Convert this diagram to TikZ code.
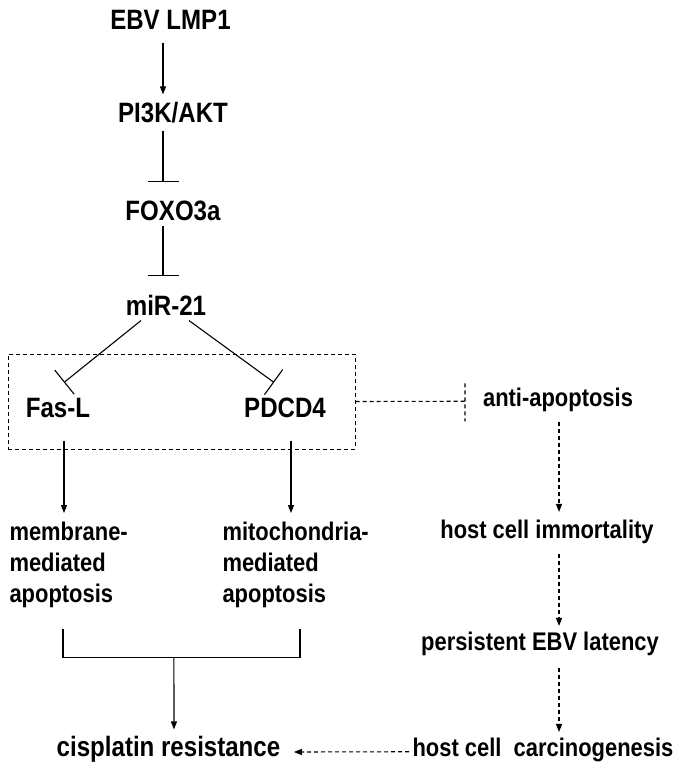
\documentclass[tikz,border=0pt]{standalone}
\usepackage{fontspec}
\setmainfont{Liberation Sans}[FakeStretch=0.86]
\usepackage{tikz}
\usetikzlibrary{arrows.meta}

\begin{document}
\begin{tikzpicture}[x=1pt,y=-1pt,line width=1.1pt,
  big/.style={font=\bfseries\fontsize{28}{33}\selectfont,inner sep=0pt,anchor=base,text height=20pt,text depth=0pt},
  small/.style={font=\bfseries\fontsize{25.5}{31}\selectfont,inner sep=0pt,anchor=base,text height=18.5pt,text depth=0pt},
  blk/.style={font=\bfseries\fontsize{25.5}{31}\selectfont,inner sep=0pt,align=left,anchor=north west},
  act/.style={-{Triangle[length=8pt,width=6pt]}},
  inh/.style={-{Bar[width=31pt,line width=1.1pt]}},
  dsh/.style={dash pattern=on 4pt off 3pt}]

\useasboundingbox (0,0) rectangle (682,770);

% main chain
\node[big] (lmp) at (170.5,29.3) {EBV LMP1};
\node[big] (pik) at (173,123) {PI3K/AKT};
\node[big] (foxo) at (173,220) {FOXO3a};
\node[big] (mir) at (166,315) {miR-21};

\draw[act] ([xshift=-7.5pt,yshift=-12.7pt]lmp.south) -- ([xshift=-10pt,yshift=8pt]pik.north);
\draw[inh] ([xshift=-10pt,yshift=-7pt]pik.south) -- ([xshift=-10pt,yshift=17pt]foxo.north);
\draw[inh] ([xshift=-10pt,yshift=-5pt]foxo.south) -- ([xshift=-3pt,yshift=18pt]mir.north);

% targets
\node[big] (fasl) at (58,417) {Fas-L};
\node[big] (pdcd) at (285,417) {PDCD4};
\node[draw,dsh,line width=1pt,inner sep=0pt,minimum width=347pt,minimum height=95pt] (grp) at (181.5,401.5) {};

\draw[inh] ([xshift=-25pt,yshift=-5pt]mir.south) -- ([xshift=6pt,yshift=14pt]fasl.north);
\draw[inh] ([xshift=23pt,yshift=-5pt]mir.south) -- ([xshift=-11pt,yshift=14pt]pdcd.north);

\node[small] (anti) at (558,406) {anti-apoptosis};
\draw[dsh] (grp.east) -- ([xshift=-17.5pt,yshift=-4.5pt]anti.west) ++(0,-18) -- ++(0,38);

% apoptosis
\node[blk] (memb) at (9,521) {membrane-\\mediated\\apoptosis};
\node[blk] (mito) at (222,521) {mitochondria-\\mediated\\apoptosis};

\draw[act] ([xshift=6pt,yshift=-23pt]fasl.south) -- ([xshift=55pt,yshift=8pt]memb.north west);
\draw[act] ([xshift=6pt,yshift=-23pt]pdcd.south) -- ([xshift=69pt,yshift=8pt]mito.north west);

% right column
\node[small] (immort) at (547,538) {host cell immortality};
\node[small] (latency) at (540,650) {persistent EBV latency};
\node[small] (carcino) at (543,756) {host cell\ \ carcinogenesis};
\node[big] (cispl) at (168.5,756) {cisplatin resistance};

\draw[act,dsh] ([xshift=1pt,yshift=-15pt]anti.south) -- ([xshift=12pt,yshift=7pt]immort.north);
\draw[act,dsh] ([xshift=12pt,yshift=-15pt]immort.south) -- ([xshift=19pt,yshift=5pt]latency.north);
\draw[act,dsh] ([xshift=19pt,yshift=-17pt]latency.south) -- ([xshift=16pt,yshift=5pt]carcino.north);
\draw[act,dsh] ([xshift=-3pt,yshift=-5pt]carcino.west) -- ([xshift=13pt,yshift=-6pt]cispl.east);

% merge
\draw ([xshift=54pt,yshift=-21pt]memb.south west) -- ++(0,29)
  -- node[coordinate,pos=0.468] (join) {} ([xshift=78pt,yshift=-50pt]mito.south west)
  -- ([xshift=78pt,yshift=-21pt]mito.south west);
\draw[act] (join) -- ([xshift=5.5pt,yshift=6pt]cispl.north);

\end{tikzpicture}
\end{document}
